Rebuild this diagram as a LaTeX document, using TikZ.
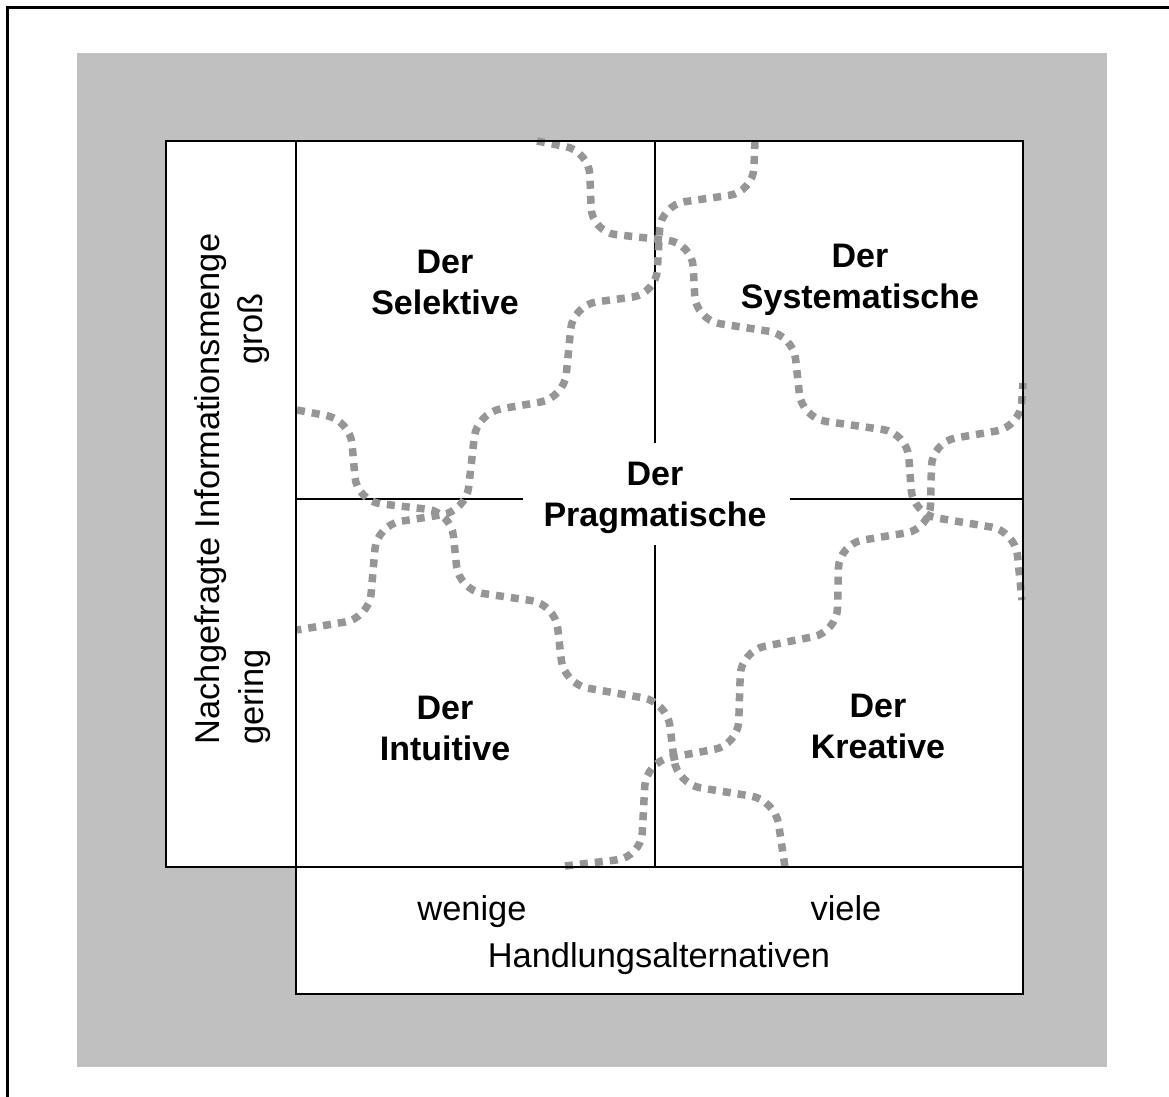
\documentclass[tikz,border=0pt]{standalone}
\usepackage{fontspec}
\setmainfont{Liberation Sans}
\definecolor{panel}{RGB}{192,192,192}
\definecolor{dotline}{RGB}{150,150,150}
\begin{document}
\begin{tikzpicture}[x=0.5pt,y=-0.5pt,
  frame/.style={line width=1.5pt},
  boxline/.style={line width=1pt},
  gridline/.style={line width=0.7pt},
  wave/.style={draw=dotline, line width=3.75pt, dash pattern=on 4pt off 3.5pt, rounded corners=12pt},
  typ/.style={font=\fontsize{17}{20.5}\selectfont\bfseries, align=center, inner sep=0pt},
  axis/.style={font=\fontsize{17.2}{20.5}\selectfont, inner sep=0pt, anchor=base}]

\useasboundingbox (0,0) rectangle (1169,1097);

% corner points of the boxes
\coordinate (outerSW) at (7,1097);
\coordinate (outerNW) at (7,8);
\coordinate (outerNE) at (1169,8);
\coordinate (leftNW) at (166,141);
\coordinate (gridNW) at (296,141);
\coordinate (gridSE) at (1023,867);
\coordinate (gridSW) at (296,867);
\coordinate (baseSE) at (1023,994);

% grey panel and white boxes
\fill[panel] (77,53) rectangle (1107,1067);
\fill[white] (leftNW) rectangle (gridSE);
\fill[white] (gridSW) rectangle (baseSE);

% quadrant dividers, interrupted around the centre label
\coordinate (vTop) at (655,141);
\coordinate (vGapA) at (655,443);
\coordinate (vGapB) at (655,545);
\coordinate (vBot) at (655,867);
\coordinate (hLeft) at (296,499);
\coordinate (hGapA) at (523,499);
\coordinate (hGapB) at (790,499);
\coordinate (hRight) at (1023,499);
\draw[gridline] (vTop) -- (vGapA);
\draw[gridline] (vGapB) -- (vBot);
\draw[gridline] (hLeft) -- (hGapA);
\draw[gridline] (hGapB) -- (hRight);

% wavy dotted boundaries
\draw[wave] (537,141) -- (589,151) -- (592,232) -- (692,243) -- (696,320)
  -- (793,335) -- (802,418) -- (907,433) -- (913,514) -- (1015,531) -- (1022,600);
\draw[wave] (755,141) -- (753,192) -- (661,205) -- (656,294) -- (573,305)
  -- (564,398) -- (477,413) -- (466,511) -- (377,525) -- (369,618) -- (297,630);
\draw[wave] (297,410) -- (350,420) -- (357,501) -- (451,512) -- (459,590)
  -- (555,604) -- (564,684) -- (667,702) -- (677,784) -- (775,800) -- (785,867);
\draw[wave] (565,866) -- (641,857) -- (646,762) -- (738,745) -- (741,651)
  -- (837,632) -- (839,544) -- (930,529) -- (932,442) -- (1020,427) -- (1023,383);

% box outlines
\draw[boxline] (leftNW) rectangle (gridSW);
\draw[boxline] (gridNW) rectangle (gridSE);
\draw[boxline] (gridSW) rectangle (baseSE);
\draw[frame] (outerSW) -- (outerNW) -- (outerNE);

% type labels
\node[typ] (selektiv) at (445,282) {Der\\Selektive};
\node[typ] (systematisch) at (860,280) {Der\\Systematische};
\node[typ] (pragmatisch) at (655,498) {Der\\Pragmatische};
\node[typ] (intuitiv) at (445,728) {Der\\Intuitive};
\node[typ] (kreativ) at (878,726) {Der\\Kreative};

% axis labels
\node[axis] (wenige) at (472,920) {wenige};
\node[axis] (viele) at (846,920) {viele};
\node[axis] (handlung) at (659,967) {Handlungsalternativen};
\node[axis, rotate=90] (info) at (219,489) {Nachgefragte Informationsmenge};
\node[axis, rotate=90] (gross) at (262,329) {groß};
\node[axis, rotate=90] (gering) at (263,697) {gering};
\end{tikzpicture}
\end{document}
